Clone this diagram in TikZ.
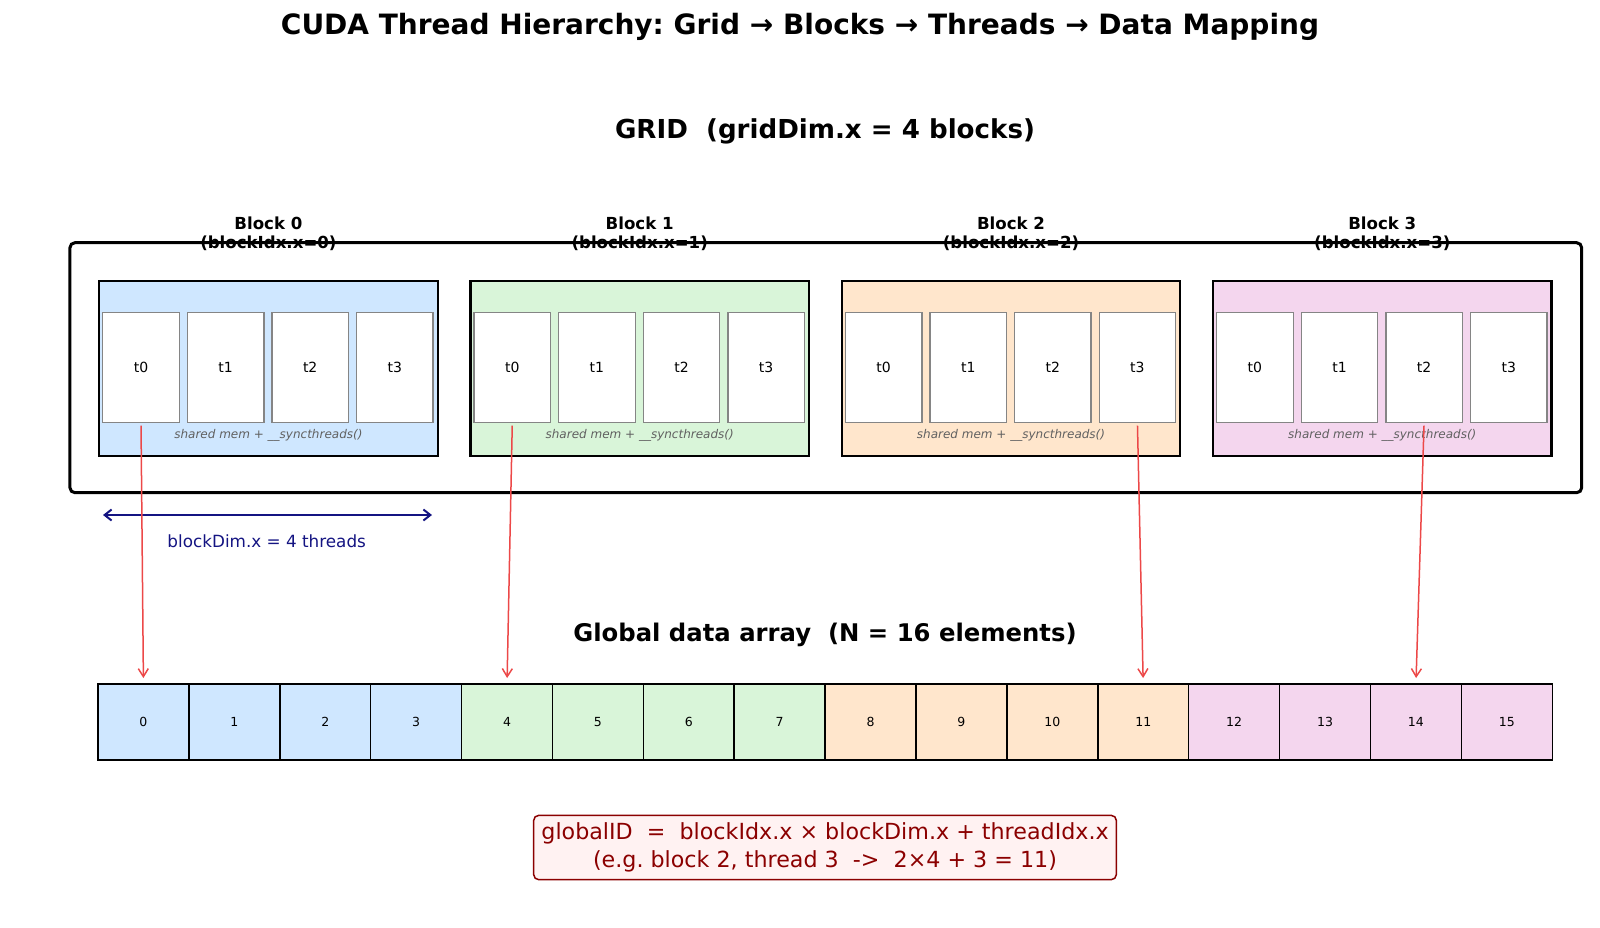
\documentclass[tikz,border=0pt]{standalone}
\usepackage{fontspec}
\setmainfont{DejaVu Sans}
\usetikzlibrary{arrows.meta, positioning}
\definecolor{blkblue}{RGB}{207,231,255}
\definecolor{blkgreen}{RGB}{217,245,217}
\definecolor{blkorange}{RGB}{255,230,204}
\definecolor{blkpink}{RGB}{244,214,238}
\definecolor{mapred}{RGB}{236,72,72}
\definecolor{dimnavy}{RGB}{20,20,130}
\definecolor{gidred}{RGB}{139,0,0}
\definecolor{gidfill}{RGB}{255,242,242}
\frenchspacing

\begin{document}
\begin{tikzpicture}[
    x=1pt, y=-1pt,
    every node/.style={inner sep=0pt, outer sep=0pt},
    title/.style={font=\fontsize{28}{33}\selectfont\bfseries},
    heading/.style={font=\fontsize{24.3}{29}\selectfont\bfseries},
    blocklabel/.style={font=\fontsize{16.6}{19.3}\selectfont\bfseries, align=center},
    gridbox/.style={rectangle, rounded corners=5pt, draw=black, line width=3pt, minimum width=1511.7pt, minimum height=250pt},
    blockbox/.style={rectangle, draw=black, line width=2.2pt, minimum width=338.5pt, minimum height=174.7pt},
    threadbox/.style={rectangle, draw=black!48, fill=white, line width=1.3pt, minimum width=76.5pt, minimum height=109.6pt, font=\fontsize{14}{16}\selectfont},
    sharedtxt/.style={font=\fontsize{12}{14}\selectfont\itshape, text=black!62},
    cellbox/.style={rectangle, draw=black, line width=1.5pt, minimum width=90.89pt, minimum height=76pt, font=\fontsize{12.5}{14}\selectfont},
    maparrow/.style={-{Straight Barb[length=8pt, width=10pt]}, draw=mapred, line width=1.5pt, shorten <=3.4pt, shorten >=6pt},
    dimarrow/.style={{Straight Barb[length=7pt, width=11pt]}-{Straight Barb[length=7pt, width=11pt]}, draw=dimnavy, line width=2pt},
    formula/.style={rectangle, rounded corners=5pt, draw=gidred, fill=gidfill, line width=1.5pt, text=gidred, align=center, minimum width=582.6pt, minimum height=64.3pt, font=\fontsize{22.2}{27.5}\selectfont}
]
\useasboundingbox (0,0) rectangle (1600,927);

\node[title] (title) at (800,27) {CUDA Thread Hierarchy: Grid → Blocks → Threads → Data Mapping};

\node[heading, font=\fontsize{26.1}{31}\selectfont\bfseries] (gridhead) at (825,131.5) {GRID\ \ (gridDim.x = 4 blocks)};

\node[gridbox] (grid) at (825.8,367.7) {};

% blocks with their threads
\foreach \i/\col in {0/blkblue, 1/blkgreen, 2/blkorange, 3/blkpink} {
  \node[blockbox, fill=\col] (b\i) at (268.4+371.3*\i,368.3) {};
  \node[blocklabel] (bl\i) at (268.4+371.3*\i,233.6) {Block \i\\(blockIdx.x=\i)};
  \foreach \j in {0,...,3}
    \node[threadbox] (t\i\j) at (141+371.3*\i+84.6*\j,367.5) {t\j};
  \node[sharedtxt] (sh\i) at (268.4+371.3*\i,435) {shared mem + \_\_syncthreads()};
}

\coordinate (dimL) at (103,515);
\coordinate (dimR) at (432,515);
\draw[dimarrow] (dimL) -- (dimR);
\node[font=\fontsize{16.8}{20}\selectfont, text=dimnavy] (dimtxt) at (266.7,541.7) {blockDim.x = 4 threads};

\node[heading] (arrhead) at (825,634.5) {Global data array\ \ (N = 16 elements)};

% global data array
\foreach \i/\col in {0/blkblue, 1/blkgreen, 2/blkorange, 3/blkpink}
  \foreach \j in {0,...,3} {
    \pgfmathtruncatemacro{\k}{4*\i+\j}
    \node[cellbox, fill=\col] (c\k) at (143.45+90.89*\k,722) {\k};
  }

\foreach \s/\e in {t00/c0, t10/c4, t23/c11, t32/c14}
  \draw[maparrow] (\s.south) -- (\e.north);

\node[formula] (gid) at (825,847.5) {globalID\ \ =\ \ blockIdx.x × blockDim.x + threadIdx.x\\(e.g. block 2, thread 3\ \ ->\ \ 2×4 + 3 = 11)};

\end{tikzpicture}
\end{document}
